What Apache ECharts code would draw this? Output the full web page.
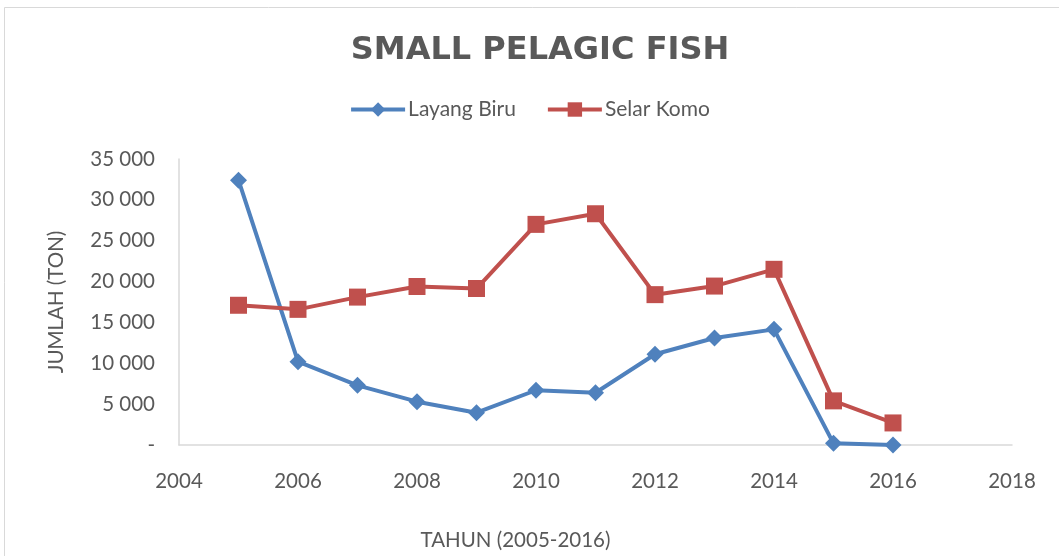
<!DOCTYPE html>
<html>
<head>
<meta charset="utf-8">
<script src="https://cdn.jsdelivr.net/npm/echarts@6/dist/echarts.min.js"></script>
<style>
  html, body { margin: 0; padding: 0; background: #fff; }
  #chart { width: 1059px; height: 556px; }
</style>
</head>
<body>
<div id="chart"></div>
<script>
// data
const years = [2005, 2006, 2007, 2008, 2009, 2010, 2011, 2012, 2013, 2014, 2015, 2016];
const layangBiru = [32400, 10200, 7300, 5300, 3950, 6700, 6400, 11100, 13100, 14150, 200, 0];
const selarKomo = [17100, 16600, 18100, 19400, 19150, 27000, 28300, 18400, 19450, 21500, 5400, 2700];
const xTicks = [2004, 2018]; // min / max of year axis
const yTicks = [0, 35000];

const grey = "#595959";
const labelFont = "Lato";
const labelSize = 20.5;

function fmt(v) {
  if (v === 0) return "-";
  return String(v).replace(/\B(?=(\d{3})+(?!\d))/g, " ");
}

const chart = echarts.init(document.getElementById("chart"));
const option = {
  animation: false,
  backgroundColor: "#fff",
  title: {
    text: "SMALL PELAGIC FISH",
    left: 535,
    textAlign: "center",
    top: 30,
    textStyle: {
      color: grey,
      fontFamily: "DejaVu Sans",
      fontWeight: "bold",
      fontSize: 32
    }
  },
  legend: {
    top: 94,
    left: "center",
    itemWidth: 54,
    itemHeight: 18,
    itemGap: 30,
    lineStyle: { width: 4 },
    textStyle: { color: grey, fontFamily: labelFont, fontSize: 21, padding: [0, 0, 0, -2] },
    data: ["Layang Biru", "Selar Komo"]
  },
  graphic: [
    {
      type: "rect",
      silent: true,
      shape: { x: 4.5, y: 7.5, width: 1100, height: 600 },
      style: { fill: "none", stroke: "#d9d9d9", lineWidth: 1 }
    }
  ],
  grid: { left: 179, right: 47, top: 159, bottom: 111 },
  xAxis: {
    type: "value",
    min: xTicks[0],
    max: xTicks[1],
    interval: 2,
    name: "TAHUN (2005-2016)",
    nameLocation: "middle",
    nameGap: 85,
    nameTextStyle: { color: grey, fontFamily: labelFont, fontSize: labelSize, padding: [0, 160, 0, 0] },
    axisLine: { show: true, lineStyle: { color: "#d9d9d9", width: 1.5 } },
    axisTick: { show: false },
    splitLine: { show: false },
    axisLabel: { color: grey, fontFamily: labelFont, fontSize: labelSize, margin: 26, formatter: v => String(v) }
  },
  yAxis: {
    type: "value",
    min: yTicks[0],
    max: yTicks[1],
    interval: 5000,
    name: "JUMLAH (TON)",
    nameLocation: "middle",
    nameGap: 112,
    nameTextStyle: { color: grey, fontFamily: labelFont, fontSize: labelSize },
    axisLine: { show: true, lineStyle: { color: "#d9d9d9", width: 1.5 } },
    axisTick: { show: false },
    splitLine: { show: false },
    axisLabel: { color: grey, fontFamily: labelFont, fontSize: labelSize, margin: 24, formatter: fmt }
  },
  series: [
    {
      name: "Layang Biru",
      type: "line",
      data: years.map((y, i) => [y, layangBiru[i]]),
      symbol: "diamond",
      symbolSize: 17,
      itemStyle: { color: "#4F81BD" },
      lineStyle: { color: "#4F81BD", width: 4 }
    },
    {
      name: "Selar Komo",
      type: "line",
      data: years.map((y, i) => [y, selarKomo[i]]),
      symbol: "rect",
      symbolSize: 17,
      itemStyle: { color: "#C0504D" },
      lineStyle: { color: "#C0504D", width: 4 }
    }
  ]
};
chart.setOption(option);
</script>
</body>
</html>
